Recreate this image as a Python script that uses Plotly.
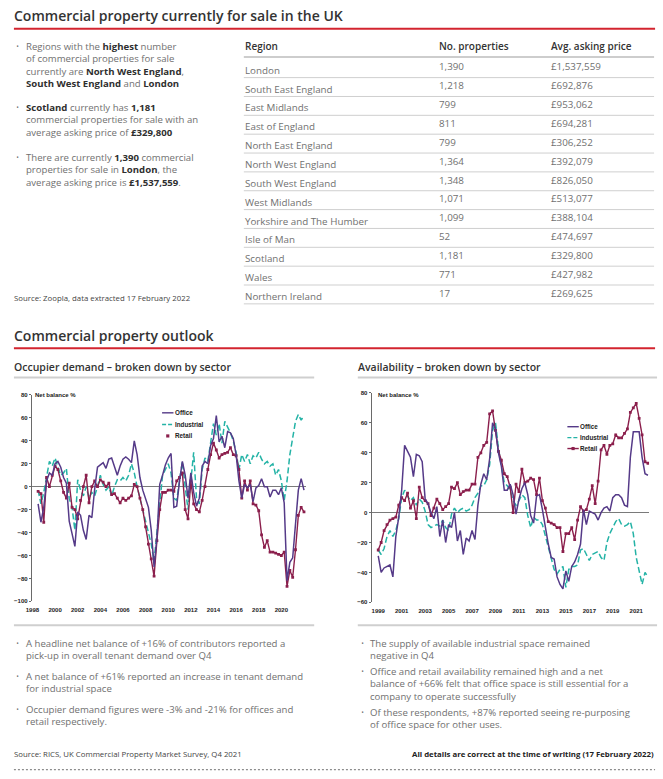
import plotly.graph_objects as go

W, H = 663, 779

# ---------------- data ----------------
regions = ["London", "South East England", "East Midlands", "East of England",
           "North East England", "North West England", "South West England",
           "West Midlands", "Yorkshire and The Humber", "Isle of Man", "Scotland",
           "Wales", "Northern Ireland"]
num_properties = [1390, 1218, 799, 811, 799, 1364, 1348, 1071, 1099, 52, 1181, 771, 17]
avg_price = [1537559, 692876, 953062, 694281, 306252, 392079, 826050, 513077,
             388104, 474697, 329800, 427982, 269625]

# Occupier demand (net balance %), quarterly from Q2 1998 to Q4 2021
occ_start = 1998.5
occ_office = [-15, -31, -18, 5, 12, 10, 20, 22, 17, 8,
              3, -30, -41, -52, -22, -25, -38, -46, -25, -27,
              -2, 17, 19, 21, 16, 24, 25, 18, 10, 18,
              24, 26, 24, 21, 40, 28, 8, -3, -10, -18,
              -38, -70, -45, 2, 10, 19, 25, 29, -18, -17,
              5, 22, 10, -10, 12, -5, -17, -10, 18, 22,
              20, 36, 42, 62, 39, 44, 34, 48, 47, 42,
              28, 5, -10, 2, -1, 2, -13, -1, 1, 7,
              0, 0, -9, -3, -3, -7, -1, -14, -82, -66,
              -62, -35, -3, 7, -3]
occ_industrial = [-3, -15, -5, 10, 22, 18, 25, 17, 10, 12,
                  16, -10, -18, -38, 6, -3, -8, 0, -10, -5,
                  -8, 0, 10, 2, -3, 0, -8, 0, 6, 5,
                  8, 5, 10, 20, 12, 0, -10, -20, -30, -42,
                  -50, -65, -40, -10, 10, 15, 20, 12, -10, -12,
                  5, 22, 0, -20, 5, 30, -10, -15, 15, 25,
                  22, 40, 55, 45, 55, 38, 57, 52, 47, 40,
                  30, 15, 28, 22, 28, 20, 27, 25, 30, 24,
                  20, 22, 18, 20, 10, 15, 5, -12, 5, 28,
                  42, 57, 63, 58, 62]
occ_retail = [-4, -6, -31, 8, 0, 10, 18, 15, 5, -5,
              -10, 3, -18, -20, -28, -12, 0, 10, -14, 0,
              5, 0, 6, 4, 0, 3, -7, -6, -10, -14,
              -10, -12, -10, -8, 2, 0, -10, -20, -35, -50,
              -63, -78, -47, -20, -5, -5, -3, -3, -4, 5,
              8, 12, -20, -28, 5, -15, -20, -22, -12, 0,
              15, 28, 38, 32, 25, 28, 29, 30, 34, 28,
              27, 15, -10, 5, -3, 5, -15, -16, -21, -42,
              -53, -47, -57, -57, -58, -59, -60, -57, -87, -73,
              -79, -55, -25, -18, -22]

# Availability (net balance %), quarterly from Q1 1999 to Q4 2021
avail_start = 1999.0
avail_office = [-29, -40, -37, -36, -35, -43, -16, -3, 15, 45,
                41, 37, 24, 39, 38, 34, 9, 6, 0, -4,
                4, -16, -5, -20, -8, -10, 0, -19, -12, -28,
                -17, -19, -12, -18, 5, 19, 26, 22, 36, 60,
                56, 40, 31, 15, 15, 19, 12, -1, 9, 16,
                20, 12, -2, -7, 11, 12, 2, -10, -21, -30,
                -31, -43, -48, -51, -39, -46, -36, -33, -28, -21,
                2, -8, 1, 0, -1, -5, 0, 3, 4, 1,
                10, 12, 12, 10, 5, 4, 37, 54, 54, 54,
                37, 26, 25]
avail_industrial = [-25, -28, -24, -16, -12, -16, -12, -4, 10, 15,
                    11, 8, 10, 5, 9, 7, 1, -8, -10, -9,
                    -8, -9, -5, -10, -12, -1, 3, 0, 2, 3,
                    1, 2, 5, 10, 13, 18, 18, 22, 32, 55,
                    60, 43, 30, 20, 18, 15, 8, 5, 8, 12,
                    10, -2, -10, -3, -5, -5, -8, -16, -24, -32,
                    -38, -41, -38, -36, -50, -38, -36, -36, -35, -25,
                    -24, -28, -32, -28, -27, -26, -30, -32, -20, -14,
                    -10, -6, -4, -8, -9, -8, -6, -14, -30, -40,
                    -48, -40, -43]
avail_retail = [-25, -20, -12, -8, -5, -4, -3, 5, 10, 8,
                13, 3, 8, -4, 17, 10, 8, 6, -2, 3,
                9, 6, 2, 4, 6, 17, 16, 20, 12, 14,
                15, 15, 19, 19, 37, 40, 45, 47, 66, 68,
                55, 41, 35, 26, 24, 17, 0, 19, 14, 29,
                20, 21, 23, 22, 12, 23, 8, 3, -6, -7,
                -8, -10, -10, -26, -14, -14, -10, -18, -5, 4,
                1, 2, 9, 18, 6, 21, 42, 45, 39, 45,
                46, 52, 50, 50, 53, 56, 67, 70, 73, 63,
                52, 34, 33]

occ_ticks = [1998, 2000, 2002, 2004, 2006, 2008, 2010, 2012, 2014, 2016, 2018, 2020]
avail_ticks = [1999, 2001, 2003, 2005, 2007, 2009, 2011, 2013, 2015, 2017, 2019, 2021]
occ_yticks = [80, 60, 40, 20, 0, -20, -40, -60, -80, -100]
avail_yticks = [80, 60, 40, 20, 0, -20, -40, -60]

# ---------------- styles ----------------
BODY = "Open Sans"
CHART = "Liberation Sans"
GRAY = "#707070"
DARK = "#2f2f2f"
RED = "#d3242f"
LINEGRAY = "#cfcfcf"
C_OFFICE = "#553a88"
C_IND = "#24b3a6"
C_RET = "#8b1f4c"
BODY_SIZE = 9.6
PITCH = 1.3 * BODY_SIZE

annotations = []
shapes = []


def text(x, y, s, size=10, color=GRAY, anchor="left", family=BODY, weight=None):
    f = dict(family=family, size=size, color=color)
    if weight is not None:
        f["weight"] = weight
    annotations.append(dict(x=x / W, y=1 - y / H, xref="paper", yref="paper", text=s,
                            showarrow=False, xanchor=anchor, yanchor="middle",
                            align="left", font=f, borderpad=0))


def hline(x0, x1, y, color, width, dash=None):
    ln = dict(color=color, width=width)
    if dash:
        ln["dash"] = dash
    shapes.append(dict(type="line", xref="paper", yref="paper", x0=x0 / W, x1=x1 / W,
                       y0=1 - y / H, y1=1 - y / H, line=ln))


def B(s):
    return f"<b><span style='color:{DARK}'>{s}</span></b>"


def bullet(xdot, xtext, y_first, lines):
    # y_first: centre of the first line; block is centred on its middle line
    text(xdot, y_first, "·", size=12, color=GRAY)
    yc = y_first + (len(lines) - 1) * PITCH / 2
    text(xtext, yc, "<br>".join(lines), size=BODY_SIZE)


# ---------------- headings ----------------
text(7, 13, "Commercial property currently for sale in the UK", size=14, color="#333333", weight=600)
hline(8, 655, 26, RED, 2)
text(7, 335, "Commercial property outlook", size=14, color="#333333", weight=600)
hline(8, 655, 348, RED, 2)
text(7, 367, "Occupier demand – broken down by sector", size=10.5, color="#333333", weight=600)
text(354, 367, "Availability – broken down by sector", size=10.5, color="#333333", weight=600)
hline(8, 311, 377.5, LINEGRAY, 2)
hline(355, 657, 377.5, LINEGRAY, 2)
hline(8, 311, 627, LINEGRAY, 2)
hline(355, 657, 627, LINEGRAY, 2)

# ---------------- left bullets ----------------
bullet(9, 19.5, 44, ["Regions with the " + B("highest") + " number",
                     "of commercial properties for sale",
                     "currently are " + B("North West England") + ",",
                     B("South West England") + " and " + B("London")])
bullet(9, 19.5, 105, [B("Scotland") + " currently has " + B("1,181"),
                      "commercial properties for sale with an",
                      "average asking price of " + B("£329,800")])
bullet(9, 19.5, 155.5, ["There are currently " + B("1,390") + " commercial",
                        "properties for sale in " + B("London") + ", the",
                        "average asking price is " + B("£1,537,559") + "."])
text(7.5, 297.5, "Source: Zoopla, data extracted 17 February 2022", size=7.8, color="#444444")

# ---------------- table ----------------
text(240, 43.3, "Region", size=10, color="#333333", weight=600)
text(436, 43.3, "No. properties", size=10, color="#333333", weight=600)
text(548.5, 43.3, "Avg. asking price", size=10, color="#333333", weight=600)
hline(240, 654, 54.5, "#bdbdbd", 1.5)
for k, (r, n, p) in enumerate(zip(regions, num_properties, avg_price)):
    bottom = 75.2 + 19.0 * k
    text(240, bottom - 7.5, r, size=9.8)
    text(436, bottom - 10.8, f"{n:,}", size=9.8)
    text(548.5, bottom - 10.8, f"£{p:,}", size=9.8)
    hline(240, 654, bottom, LINEGRAY, 1)

# ---------------- bottom bullets ----------------
bullet(9, 19.5, 645, ["A headline net balance of +16% of contributors reported a",
                      "pick-up in overall tenant demand over Q4"])
bullet(9, 19.5, 678.5, ["A net balance of +61% reported an increase in tenant demand",
                        "for industrial space"])
bullet(9, 19.5, 712, ["Occupier demand figures were -3% and -21% for offices and",
                      "retail respectively."])
bullet(357, 366.5, 645, ["The supply of available industrial space remained",
                         "negative in Q4"])
bullet(357, 366.5, 673.5, ["Office and retail availability remained high and a net",
                           "balance of +66% felt that office space is still essential for a",
                           "company to operate successfully"])
bullet(357, 366.5, 715, ["Of these respondents, +87% reported seeing re-purposing",
                         "of office space for other uses."])

text(7.5, 757, "Source: RICS, UK Commercial Property Market Survey, Q4 2021", size=7.8, color="#444444")
text(655, 757, "<b>All details are correct at the time of writing (17 February 2022)</b>",
     size=7.8, color="#222222", anchor="right")
hline(8, 655, 772.5, "#8c8c8c", 1.3, dash="2px,2px")

# ---------------- charts ----------------
fig = go.Figure()

occ_x = [occ_start + 0.25 * i for i in range(len(occ_office))]
avail_x = [avail_start + 0.25 * i for i in range(len(avail_office))]


def add_series(xs, office, industrial, retail, xa, ya):
    fig.add_trace(go.Scatter(x=xs, y=industrial, mode="lines", name="Industrial",
                             line=dict(color=C_IND, width=1.5, dash="6px,3px"),
                             xaxis=xa, yaxis=ya, showlegend=False, hoverinfo="skip"))
    fig.add_trace(go.Scatter(x=xs, y=retail, mode="lines+markers", name="Retail",
                             line=dict(color=C_RET, width=1.4),
                             marker=dict(symbol="square", size=2.8, color=C_RET),
                             xaxis=xa, yaxis=ya, showlegend=False, hoverinfo="skip"))
    fig.add_trace(go.Scatter(x=xs, y=office, mode="lines", name="Office",
                             line=dict(color=C_OFFICE, width=1.5),
                             xaxis=xa, yaxis=ya, showlegend=False, hoverinfo="skip"))


add_series(occ_x, occ_office, occ_industrial, occ_retail, "x", "y")
add_series(avail_x, avail_office, avail_industrial, avail_retail, "x2", "y2")

TF = dict(family=CHART, size=6, color="#222222", weight="bold")

# chart labels
text(28, 395.5, "<b>Net balance %</b>", size=6, color="#222222", family=CHART)
text(374, 395.5, "<b>Net balance %</b>", size=6, color="#222222", family=CHART)


# compact legends
def legend_entry(x0, y, label, kind, color):
    if kind in ("line", "linemarker"):
        hline(x0, x0 + 11.5, y, color, 1.4)
    if kind == "dash":
        hline(x0, x0 + 11.5, y, color, 1.4, dash="4px,2px")
    if kind in ("marker", "linemarker"):
        cx = x0 + 5.75
        shapes.append(dict(type="rect", xref="paper", yref="paper",
                           x0=(cx - 1.6) / W, x1=(cx + 1.6) / W,
                           y0=1 - (y + 1.6) / H, y1=1 - (y - 1.6) / H,
                           fillcolor=color, line=dict(width=0)))
    text(x0 + 12, y, f"<b>{label}</b>", size=6.3, color="#222222", family=CHART)


legend_entry(157.5, 413, "Office", "line", C_OFFICE)
legend_entry(157.5, 424.7, "Industrial", "dash", C_IND)
legend_entry(157.5, 436.3, "Retail", "marker", C_RET)
legend_entry(566.5, 427, "Office", "line", C_OFFICE)
legend_entry(566.5, 438, "Industrial", "dash", C_IND)
legend_entry(566.5, 449, "Retail", "linemarker", C_RET)

axis_common = dict(showgrid=False, fixedrange=True)

fig.update_layout(
    width=W, height=H, autosize=False,
    margin=dict(l=0, r=0, t=0, b=0),
    paper_bgcolor="white", plot_bgcolor="rgba(0,0,0,0)",
    showlegend=False,
    annotations=annotations, shapes=shapes,
    xaxis=dict(domain=[26 / W, 303 / W], range=[1997.94, 2022.2], tickvals=occ_ticks,
               ticktext=[str(t) for t in occ_ticks], tickfont=TF, showline=False,
               zeroline=False, ticks="", ticklabelstandoff=4, anchor="y", **axis_common),
    yaxis=dict(domain=[1 - 603 / H, 1 - 395 / H], range=[-100, 80], tickvals=occ_yticks,
               tickfont=TF, showline=True, linecolor="#6a6a6a", linewidth=1,
               ticks="outside", ticklen=2, tickcolor="#6a6a6a",
               zeroline=True, zerolinecolor="#7a7a7a", zerolinewidth=1, anchor="x",
               **axis_common),
    xaxis2=dict(domain=[369 / W, 649 / W], range=[1998.44, 2022.1], tickvals=avail_ticks,
                ticktext=[str(t) for t in avail_ticks], tickfont=TF, showline=False,
                zeroline=False, ticks="", ticklabelstandoff=4, anchor="y2", **axis_common),
    yaxis2=dict(domain=[1 - 604 / H, 1 - 393 / H], range=[-60, 80], tickvals=avail_yticks,
                tickfont=TF, showline=True, linecolor="#6a6a6a", linewidth=1,
                ticks="outside", ticklen=2, tickcolor="#6a6a6a",
                zeroline=True, zerolinecolor="#7a7a7a", zerolinewidth=1, anchor="x2",
                **axis_common),
)

fig.write_html("out.html", config={"displayModeBar": False},
               post_script="document.body.style.margin='0';document.body.style.overflow='hidden';")
